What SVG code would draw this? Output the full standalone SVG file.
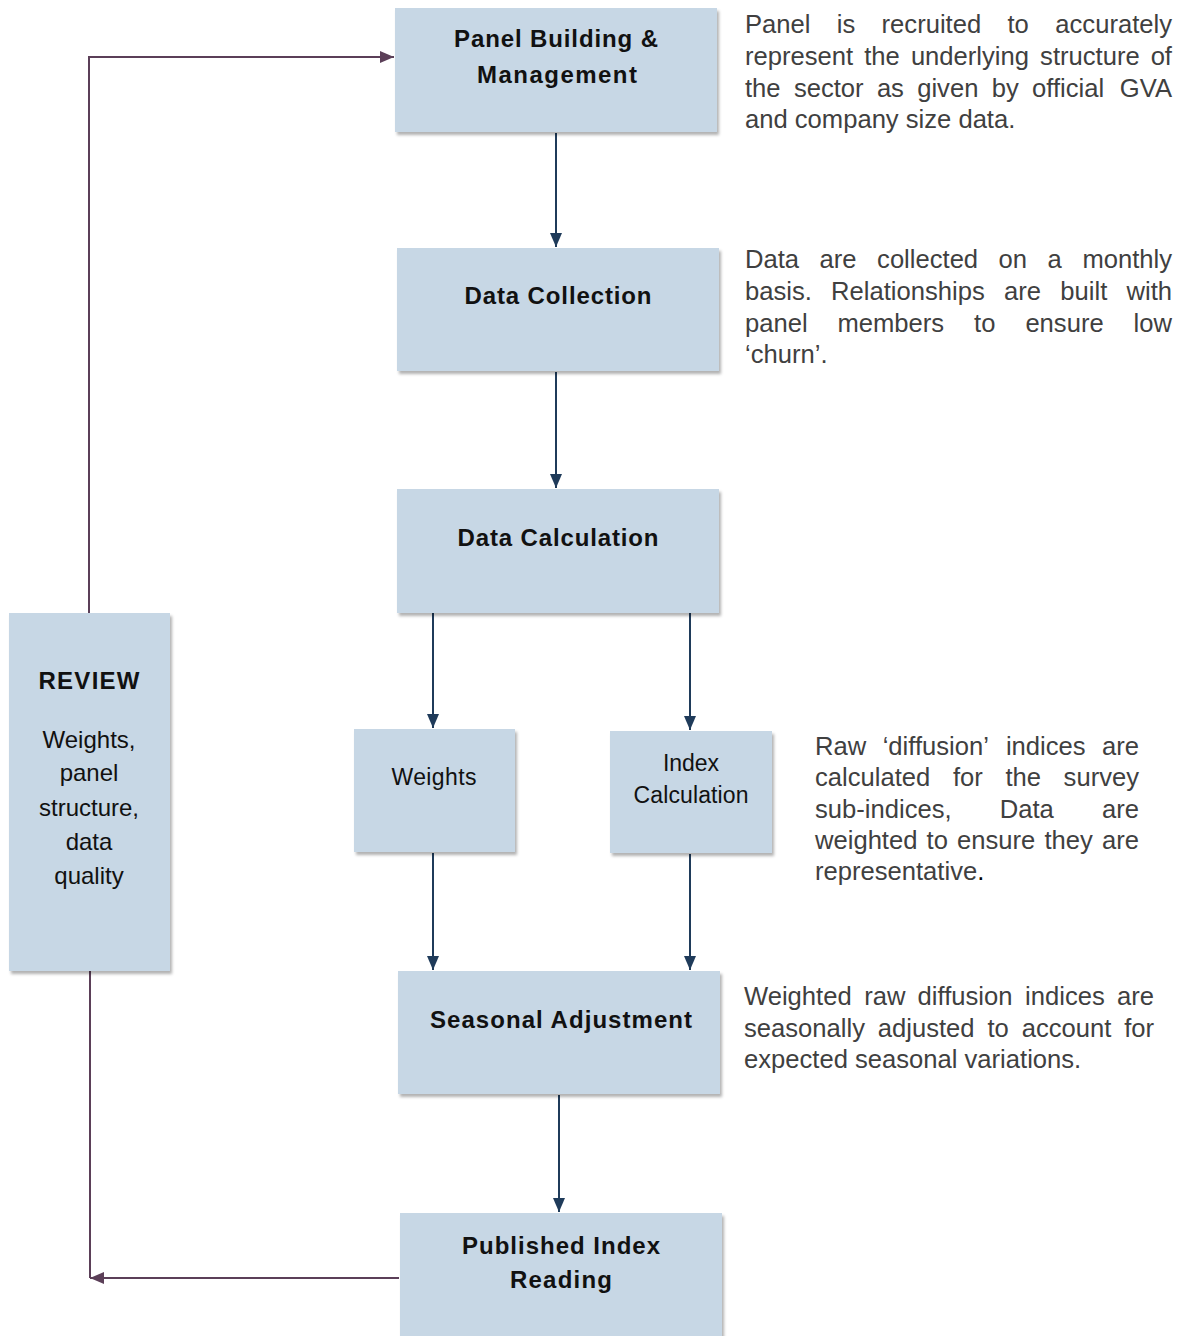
<svg xmlns="http://www.w3.org/2000/svg" width="1181" height="1336" viewBox="0 0 1181 1336">
<style>
.box{fill:#C7D7E5;filter:url(#sh)}
.lb{font-family:"Liberation Sans",Arial,sans-serif;font-weight:bold;font-size:24px;fill:#111;text-anchor:middle}
.lr{font-family:"Liberation Sans",Arial,sans-serif;font-size:23px;fill:#111;text-anchor:middle}
.d{font-family:"Liberation Sans",Arial,sans-serif;font-size:25.6px;fill:#404040}
.e{text-anchor:end}
.blue{stroke:#1F3B5A;stroke-width:2;fill:none;marker-end:url(#ab)}
.pur{stroke:#5B3F58;stroke-width:2;fill:none}
</style>
<defs>
<filter id="sh" x="-10%" y="-10%" width="125%" height="125%">
<feDropShadow dx="2" dy="3" stdDeviation="1.8" flood-color="#000" flood-opacity="0.3"/>
</filter>
<marker id="ab" markerUnits="userSpaceOnUse" markerWidth="14" markerHeight="12" viewBox="0 0 14 12" refX="14" refY="6" orient="auto">
<path d="M0,0 L14,6 L0,12 Z" fill="#1F3B5A"/>
</marker>
<marker id="ap" markerUnits="userSpaceOnUse" markerWidth="14" markerHeight="12" viewBox="0 0 14 12" refX="14" refY="6" orient="auto">
<path d="M0,0 L14,6 L0,12 Z" fill="#5B3F58"/>
</marker>
</defs>
<rect width="1181" height="1336" fill="#fff"/>

<g id="connectors">
<line class="blue" x1="556" y1="133" x2="556" y2="247"/>
<line class="blue" x1="556" y1="372" x2="556" y2="488"/>
<line class="blue" x1="433" y1="613" x2="433" y2="728"/>
<line class="blue" x1="690" y1="613" x2="690" y2="730"/>
<line class="blue" x1="433" y1="853" x2="433" y2="970"/>
<line class="blue" x1="690" y1="854" x2="690" y2="970"/>
<line class="blue" x1="559" y1="1095" x2="559" y2="1212"/>
<path class="pur" d="M89,613 V57 H394" marker-end="url(#ap)"/>
<path class="pur" d="M399,1278 H90" marker-end="url(#ap)"/>
<path class="pur" d="M90,1278 V971"/>
</g>

<g id="n-panel">
<rect class="box" x="395" y="8" width="322" height="124"/>
<text class="lb" x="556" y="47" textLength="204">Panel Building &amp;</text>
<text class="lb" x="557" y="83" textLength="160">Management</text>
</g>
<g id="n-collection">
<rect class="box" x="397" y="248" width="322" height="123"/>
<text class="lb" x="558" y="304" textLength="187">Data Collection</text>
</g>
<g id="n-calculation">
<rect class="box" x="397" y="489" width="322" height="124"/>
<text class="lb" x="558" y="546" textLength="201">Data Calculation</text>
</g>
<g id="n-weights">
<rect class="box" x="354" y="729" width="161" height="123"/>
<text class="lr" x="434" y="785" textLength="85">Weights</text>
</g>
<g id="n-index">
<rect class="box" x="610" y="731" width="162" height="122"/>
<text class="lr" x="691" y="771" textLength="56">Index</text>
<text class="lr" x="691" y="803" textLength="115">Calculation</text>
</g>
<g id="n-seasonal">
<rect class="box" x="398" y="971" width="322" height="123"/>
<text class="lb" x="561" y="1028" textLength="262">Seasonal Adjustment</text>
</g>
<g id="n-published">
<rect class="box" x="400" y="1213" width="322" height="130"/>
<text class="lb" x="561" y="1254" textLength="198">Published Index</text>
<text class="lb" x="561" y="1288" textLength="102">Reading</text>
</g>
<g id="n-review">
<rect class="box" x="9" y="613" width="161" height="358"/>
<text class="lb" x="89" y="689" textLength="101">REVIEW</text>
<text class="lr" x="89" y="748" style="font-size:24px">Weights,</text>
<text class="lr" x="89" y="781" style="font-size:24px">panel</text>
<text class="lr" x="89" y="816" style="font-size:24px">structure,</text>
<text class="lr" x="89" y="850" style="font-size:24px">data</text>
<text class="lr" x="89" y="884" style="font-size:24px">quality</text>
</g>

<g id="desc-panel" class="d">
<text y="33"><tspan x="745">Panel</tspan><tspan x="836.8">is</tspan><tspan x="881.6">recruited</tspan><tspan x="1007.5">to</tspan></text>
<text class="e" x="1172" y="33">accurately</text>
<text y="65"><tspan x="745">represent</tspan><tspan x="864.2">the</tspan><tspan x="910.9">underlying</tspan><tspan x="1040.1">structure</tspan></text>
<text class="e" x="1172" y="65">of</text>
<text y="97"><tspan x="745">the</tspan><tspan x="793.9">sector</tspan><tspan x="876.9">as</tspan><tspan x="917.2">given</tspan><tspan x="991.7">by</tspan><tspan x="1032">official</tspan></text>
<text class="e" x="1172" y="97">GVA</text>
<text x="745" y="128">and company size data.</text>
</g>
<g id="desc-collection" class="d">
<text y="268"><tspan x="745">Data</tspan><tspan x="819.6">are</tspan><tspan x="877.1">collected</tspan><tspan x="998.6">on</tspan><tspan x="1047.6">a</tspan></text>
<text class="e" x="1172" y="268">monthly</text>
<text y="300"><tspan x="745">basis.</tspan><tspan x="831.1">Relationships</tspan><tspan x="1004.1">are</tspan><tspan x="1060.3">built</tspan></text>
<text class="e" x="1172" y="300">with</text>
<text y="332"><tspan x="745">panel</tspan><tspan x="837.5">members</tspan><tspan x="974.1">to</tspan><tspan x="1025.4">ensure</tspan></text>
<text class="e" x="1172" y="332">low</text>
<text x="745" y="363">‘churn’.</text>
</g>
<g id="desc-index" class="d">
<text y="755"><tspan x="815">Raw</tspan><tspan x="882.7">‘diffusion’</tspan><tspan x="1005.9">indices</tspan></text>
<text class="e" x="1139" y="755">are</text>
<text y="786"><tspan x="815">calculated</tspan><tspan x="952.9">for</tspan><tspan x="1005.4">the</tspan></text>
<text class="e" x="1139" y="786">survey</text>
<text y="818"><tspan x="815">sub-indices,</tspan><tspan x="999.8">Data</tspan></text>
<text class="e" x="1139" y="818">are</text>
<text y="849"><tspan x="815">weighted</tspan><tspan x="926.6">to</tspan><tspan x="957.1">ensure</tspan><tspan x="1044.5">they</tspan></text>
<text class="e" x="1139" y="849">are</text>
<text x="815" y="880">representative<tspan fill="#000">.</tspan></text>
</g>
<g id="desc-seasonal" class="d">
<text y="1005"><tspan x="744">Weighted</tspan><tspan x="864.3">raw</tspan><tspan x="917.6">diffusion</tspan><tspan x="1025.1">indices</tspan></text>
<text class="e" x="1154" y="1005">are</text>
<text y="1037"><tspan x="744">seasonally</tspan><tspan x="877.8">adjusted</tspan><tspan x="987.4">to</tspan><tspan x="1021.7">account</tspan></text>
<text class="e" x="1154" y="1037">for</text>
<text x="744" y="1068">expected seasonal variations.</text>
</g>
</svg>
